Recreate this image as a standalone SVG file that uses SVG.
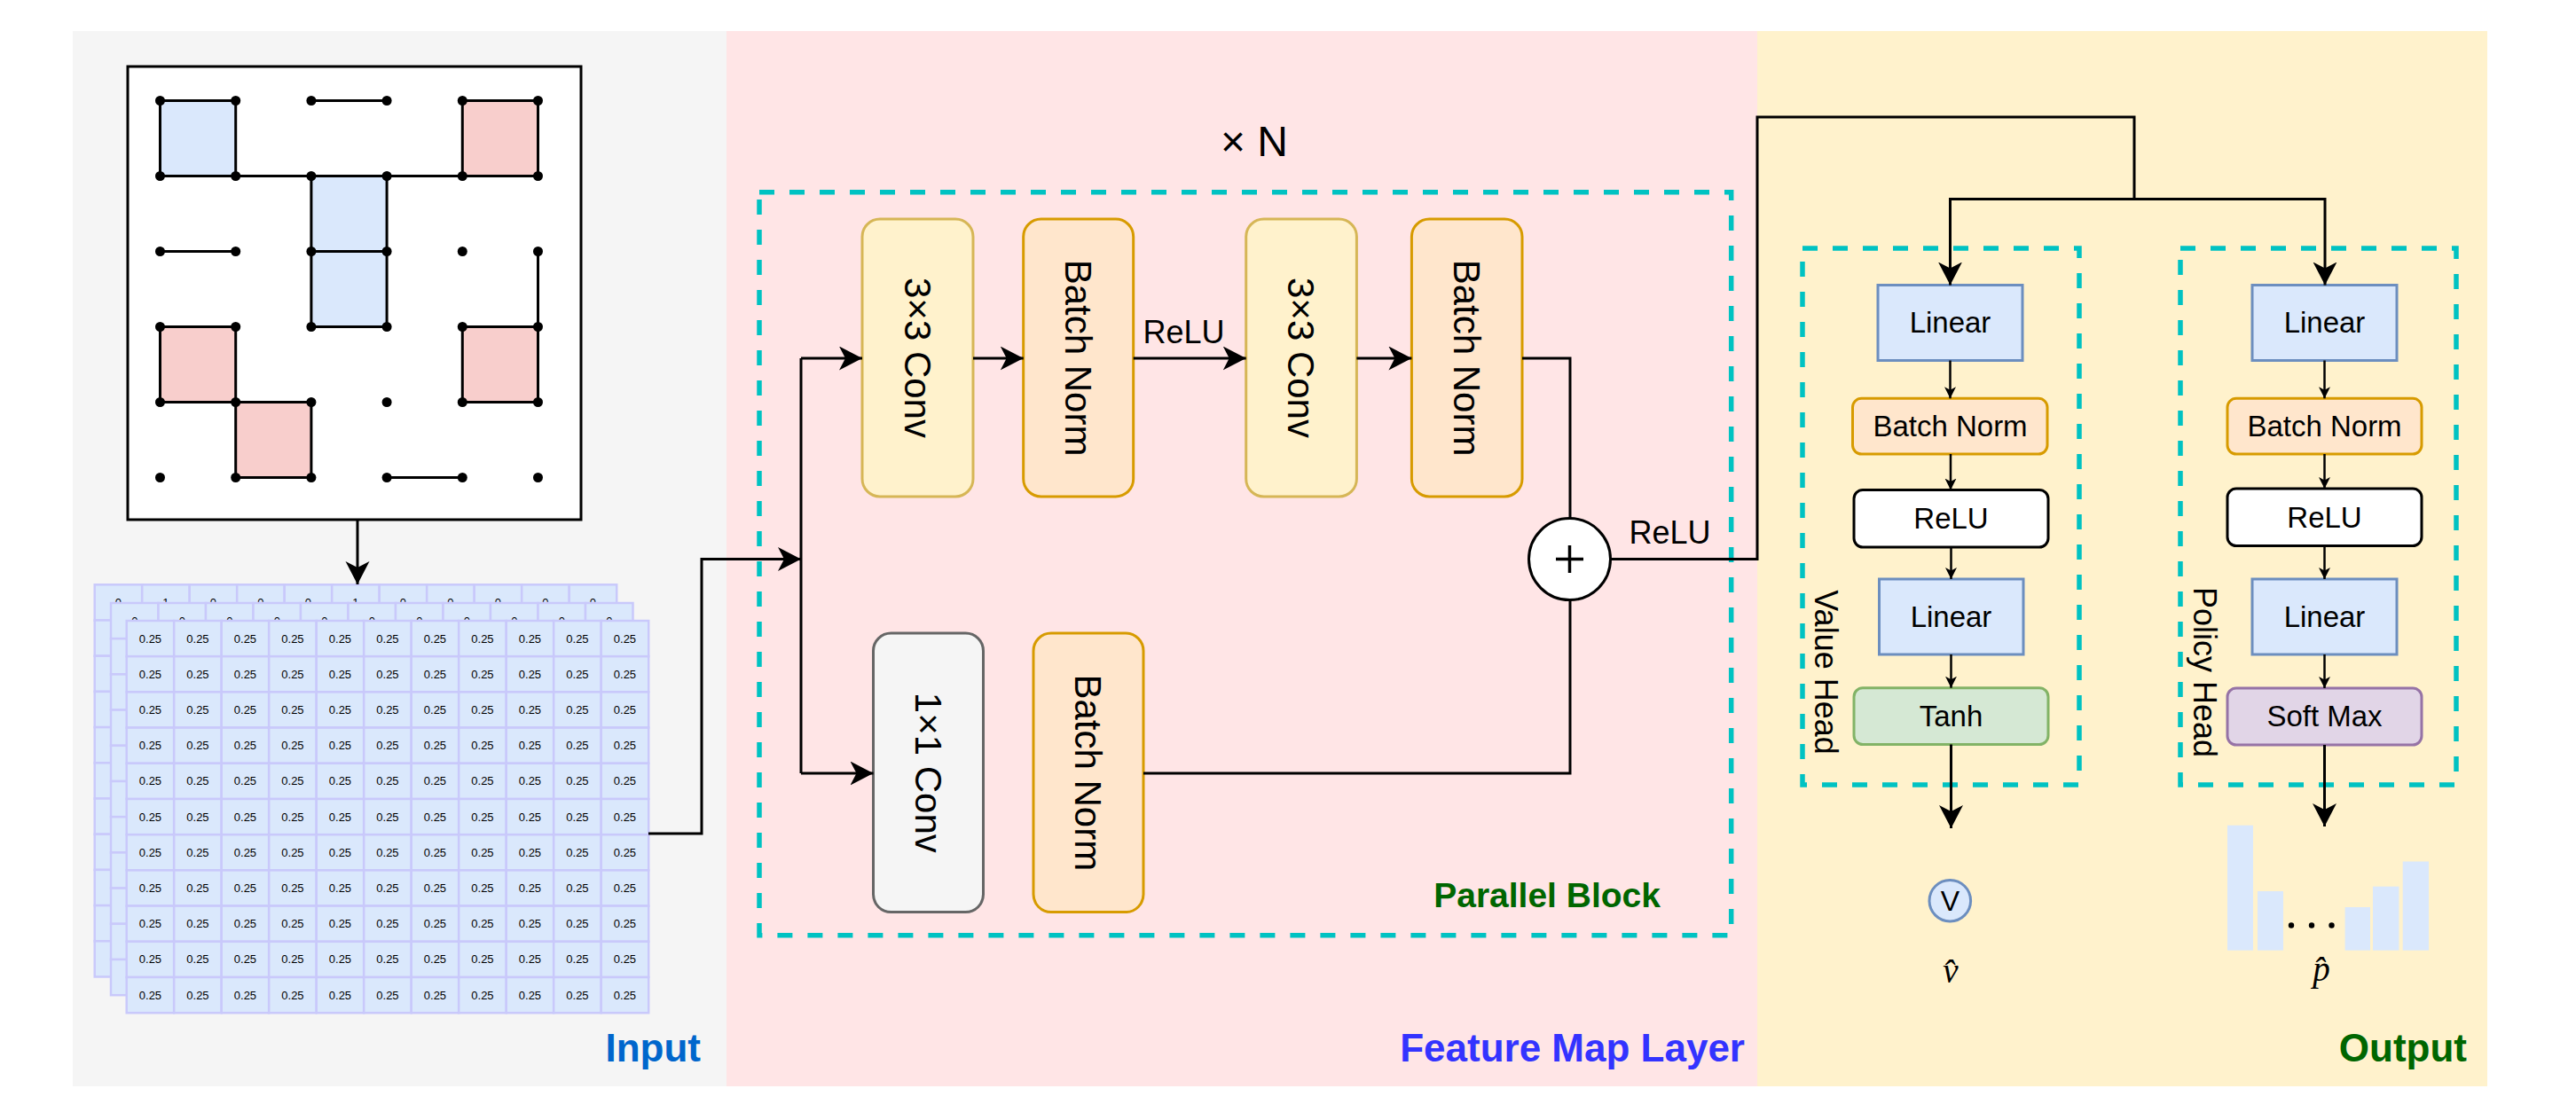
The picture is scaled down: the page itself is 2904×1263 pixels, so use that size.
<svg xmlns="http://www.w3.org/2000/svg" xmlns:xlink="http://www.w3.org/1999/xlink" width="2904" height="1263" viewBox="0 0 2904 1263">
<style>
text{font-family:"Liberation Sans",Arial,sans-serif;fill:#000}
.cell{fill:#dae8fc;stroke:#c9c9fb;stroke-width:2.5}
.ct{font-size:13px;text-anchor:middle}
.line{fill:none;stroke:#000;stroke-width:3}
.thin{fill:none;stroke:#000;stroke-width:2.5}
.dash{fill:none;stroke:#00c2c2;stroke-width:5.5;stroke-dasharray:17 17}
.edge{stroke:#000;stroke-width:3;fill:none}
.dot{fill:#000}
.conv3{fill:#fff2cc;stroke:#d6b656;stroke-width:3}
.bn{fill:#ffe6cc;stroke:#d79b00;stroke-width:3}
.conv1{fill:#f5f5f5;stroke:#666666;stroke-width:3}
.lin{fill:#dae8fc;stroke:#6c8ebf;stroke-width:3}
.relu{fill:#ffffff;stroke:#000;stroke-width:3}
.tanh{fill:#d5e8d4;stroke:#82b366;stroke-width:3}
.soft{fill:#e1d5e7;stroke:#9673a6;stroke-width:3}
.vt{font-size:42px;text-anchor:middle}
.ht{font-size:33px;text-anchor:middle}
.lbl{font-size:36px}
.sec{font-size:44px;font-weight:bold;text-anchor:end}
.math{font-family:"Liberation Serif","DejaVu Serif",serif;font-style:italic;font-size:39px;text-anchor:middle}
</style>
<defs>
<marker id="arr" markerUnits="userSpaceOnUse" markerWidth="28" markerHeight="28" refX="26" refY="13.5" orient="auto">
<path d="M0,0 L26,13.5 L0,27 L7,13.5 Z" fill="#000"/>
</marker>
<marker id="arrs" markerUnits="userSpaceOnUse" markerWidth="14" markerHeight="14" refX="13" refY="6.5" orient="auto">
<path d="M0,0 L13,6.5 L0,13 L3.5,6.5 Z" fill="#000"/>
</marker>
<g id="row">
<rect class="cell" x="0" y="0" width="53.5" height="40.2"/>
<rect class="cell" x="53.5" y="0" width="53.5" height="40.2"/>
<rect class="cell" x="107" y="0" width="53.5" height="40.2"/>
<rect class="cell" x="160.5" y="0" width="53.5" height="40.2"/>
<rect class="cell" x="214" y="0" width="53.5" height="40.2"/>
<rect class="cell" x="267.5" y="0" width="53.5" height="40.2"/>
<rect class="cell" x="321" y="0" width="53.5" height="40.2"/>
<rect class="cell" x="374.5" y="0" width="53.5" height="40.2"/>
<rect class="cell" x="428" y="0" width="53.5" height="40.2"/>
<rect class="cell" x="481.5" y="0" width="53.5" height="40.2"/>
<rect class="cell" x="535" y="0" width="53.5" height="40.2"/>
</g>
<g id="grid">
<use xlink:href="#row" y="0"/>
<use xlink:href="#row" y="40.2"/>
<use xlink:href="#row" y="80.4"/>
<use xlink:href="#row" y="120.6"/>
<use xlink:href="#row" y="160.8"/>
<use xlink:href="#row" y="201"/>
<use xlink:href="#row" y="241.2"/>
<use xlink:href="#row" y="281.4"/>
<use xlink:href="#row" y="321.6"/>
<use xlink:href="#row" y="361.8"/>
<use xlink:href="#row" y="402"/>
</g>
<g id="trow">
<text class="ct" x="26.75" y="24.6">0.25</text>
<text class="ct" x="80.25" y="24.6">0.25</text>
<text class="ct" x="133.75" y="24.6">0.25</text>
<text class="ct" x="187.25" y="24.6">0.25</text>
<text class="ct" x="240.75" y="24.6">0.25</text>
<text class="ct" x="294.25" y="24.6">0.25</text>
<text class="ct" x="347.75" y="24.6">0.25</text>
<text class="ct" x="401.25" y="24.6">0.25</text>
<text class="ct" x="454.75" y="24.6">0.25</text>
<text class="ct" x="508.25" y="24.6">0.25</text>
<text class="ct" x="561.75" y="24.6">0.25</text>
</g>
</defs>

<!-- panels -->
<g id="panels">
<rect x="82" y="35" width="737" height="1190" fill="#f5f5f5"/>
<rect x="819" y="35" width="1162" height="1190" fill="#ffe5e6"/>
<rect x="1981" y="35" width="823" height="1190" fill="#fff2cc"/>
<text class="sec" x="790" y="1197" style="fill:#0066cc">Input</text>
<text class="sec" x="1967" y="1197" style="fill:#3333ff">Feature Map Layer</text>
<text class="sec" x="2781" y="1197" style="fill:#006600">Output</text>
</g>

<!-- board -->
<g id="board">
<rect x="144" y="75" width="511" height="511" fill="#ffffff" stroke="#000" stroke-width="3"/>
<rect class="edge" x="180.5" y="113.5" width="85.2" height="85" style="fill:#dae8fc"/>
<rect class="edge" x="521.3" y="113.5" width="85.2" height="85" style="fill:#f8cecc"/>
<rect class="edge" x="350.9" y="198.5" width="85.2" height="85" style="fill:#dae8fc"/>
<rect class="edge" x="350.9" y="283.5" width="85.2" height="85" style="fill:#dae8fc"/>
<rect class="edge" x="180.5" y="368.5" width="85.2" height="85" style="fill:#f8cecc"/>
<rect class="edge" x="521.3" y="368.5" width="85.2" height="85" style="fill:#f8cecc"/>
<rect class="edge" x="265.7" y="453.5" width="85.2" height="85" style="fill:#f8cecc"/>
<path class="edge" d="M350.9,113.5 H436.1 M180.5,198.5 H606.5 M180.5,283.5 H265.7 M606.5,283.5 V368.5 M436.1,538.5 H521.3"/>
<g class="dot">
<circle cx="180.5" cy="113.5" r="5.5"/><circle cx="265.7" cy="113.5" r="5.5"/><circle cx="350.9" cy="113.5" r="5.5"/><circle cx="436.1" cy="113.5" r="5.5"/><circle cx="521.3" cy="113.5" r="5.5"/><circle cx="606.5" cy="113.5" r="5.5"/>
<circle cx="180.5" cy="198.5" r="5.5"/><circle cx="265.7" cy="198.5" r="5.5"/><circle cx="350.9" cy="198.5" r="5.5"/><circle cx="436.1" cy="198.5" r="5.5"/><circle cx="521.3" cy="198.5" r="5.5"/><circle cx="606.5" cy="198.5" r="5.5"/>
<circle cx="180.5" cy="283.5" r="5.5"/><circle cx="265.7" cy="283.5" r="5.5"/><circle cx="350.9" cy="283.5" r="5.5"/><circle cx="436.1" cy="283.5" r="5.5"/><circle cx="521.3" cy="283.5" r="5.5"/><circle cx="606.5" cy="283.5" r="5.5"/>
<circle cx="180.5" cy="368.5" r="5.5"/><circle cx="265.7" cy="368.5" r="5.5"/><circle cx="350.9" cy="368.5" r="5.5"/><circle cx="436.1" cy="368.5" r="5.5"/><circle cx="521.3" cy="368.5" r="5.5"/><circle cx="606.5" cy="368.5" r="5.5"/>
<circle cx="180.5" cy="453.5" r="5.5"/><circle cx="265.7" cy="453.5" r="5.5"/><circle cx="350.9" cy="453.5" r="5.5"/><circle cx="436.1" cy="453.5" r="5.5"/><circle cx="521.3" cy="453.5" r="5.5"/><circle cx="606.5" cy="453.5" r="5.5"/>
<circle cx="180.5" cy="538.5" r="5.5"/><circle cx="265.7" cy="538.5" r="5.5"/><circle cx="350.9" cy="538.5" r="5.5"/><circle cx="436.1" cy="538.5" r="5.5"/><circle cx="521.3" cy="538.5" r="5.5"/><circle cx="606.5" cy="538.5" r="5.5"/>
</g>
</g>

<!-- feature stack -->
<g id="stack">
<use xlink:href="#grid" transform="translate(106.7,659.3)"/>
<g transform="translate(106.7,659.3)">
<text class="ct" x="26.75" y="24.6">0</text><text class="ct" x="80.25" y="24.6">1</text><text class="ct" x="133.75" y="24.6">0</text><text class="ct" x="187.25" y="24.6">0</text><text class="ct" x="240.75" y="24.6">0</text><text class="ct" x="294.25" y="24.6">1</text><text class="ct" x="347.75" y="24.6">0</text><text class="ct" x="401.25" y="24.6">0</text><text class="ct" x="454.75" y="24.6">0</text><text class="ct" x="508.25" y="24.6">0</text><text class="ct" x="561.75" y="24.6">0</text>
</g>
<use xlink:href="#grid" transform="translate(125,680)"/>
<g transform="translate(125,680)">
<text class="ct" x="26.75" y="24.6">0</text><text class="ct" x="80.25" y="24.6">0</text><text class="ct" x="133.75" y="24.6">0</text><text class="ct" x="187.25" y="24.6">0</text><text class="ct" x="240.75" y="24.6">0</text><text class="ct" x="294.25" y="24.6">0</text><text class="ct" x="347.75" y="24.6">0</text><text class="ct" x="401.25" y="24.6">0</text><text class="ct" x="454.75" y="24.6">0</text><text class="ct" x="508.25" y="24.6">0</text><text class="ct" x="561.75" y="24.6">0</text>
</g>
<use xlink:href="#grid" transform="translate(142.7,700)"/>
<g transform="translate(142.7,700)">
<use xlink:href="#trow" y="0"/>
<use xlink:href="#trow" y="40.2"/>
<use xlink:href="#trow" y="80.4"/>
<use xlink:href="#trow" y="120.6"/>
<use xlink:href="#trow" y="160.8"/>
<use xlink:href="#trow" y="201"/>
<use xlink:href="#trow" y="241.2"/>
<use xlink:href="#trow" y="281.4"/>
<use xlink:href="#trow" y="321.6"/>
<use xlink:href="#trow" y="361.8"/>
<use xlink:href="#trow" y="402"/>
</g>
</g>

<!-- parallel block -->
<g id="parallel-block">
<rect class="dash" x="856" y="216.7" width="1095.7" height="838"/>
<text x="1414" y="176" style="font-size:48px;text-anchor:middle">× N</text>
<text x="1872" y="1023" style="font-size:39px;font-weight:bold;text-anchor:end;fill:#006600">Parallel Block</text>
</g>
<g id="conv3a"><rect class="conv3" x="972" y="247" width="125" height="313" rx="20"/><text class="vt" transform="translate(1034.5,403.5) rotate(90)" dy="15">3×3 Conv</text></g>
<g id="bn1"><rect class="bn" x="1153.7" y="247" width="124" height="313" rx="20"/><text class="vt" transform="translate(1215.7,403.5) rotate(90)" dy="15">Batch Norm</text></g>
<g id="conv3b"><rect class="conv3" x="1404.7" y="247" width="124.7" height="313" rx="20"/><text class="vt" transform="translate(1467,403.5) rotate(90)" dy="15">3×3 Conv</text></g>
<g id="bn2"><rect class="bn" x="1591.4" y="247" width="124.6" height="313" rx="20"/><text class="vt" transform="translate(1653.7,403.5) rotate(90)" dy="15">Batch Norm</text></g>
<g id="conv1"><rect class="conv1" x="984.5" y="714" width="124" height="314.6" rx="20"/><text class="vt" transform="translate(1046.5,871.3) rotate(90)" dy="15">1×1 Conv</text></g>
<g id="bn3"><rect class="bn" x="1165" y="714" width="124" height="314.6" rx="20"/><text class="vt" transform="translate(1227,871.3) rotate(90)" dy="15">Batch Norm</text></g>
<g id="add">
<circle cx="1769.5" cy="630.6" r="46" fill="#ffffff" stroke="#000" stroke-width="3"/>
<path d="M1754,630.6 H1785 M1769.5,615 V646" stroke="#000" stroke-width="3.5"/>
</g>

<!-- heads -->
<g id="value-head">
<rect class="dash" x="2032" y="280" width="312" height="605"/>
<text class="lbl" transform="translate(2058,758) rotate(90)" dy="12.5" style="text-anchor:middle">Value Head</text>
</g>
<g id="v-linear1"><rect class="lin" x="2117" y="321.5" width="163" height="85"/><text class="ht" x="2198.5" y="375">Linear</text></g>
<g id="v-bn"><rect class="bn" x="2088.5" y="449.3" width="219.5" height="62.7" rx="10"/><text class="ht" x="2198.5" y="492">Batch Norm</text></g>
<g id="v-relu"><rect class="relu" x="2090" y="552.5" width="219" height="64.5" rx="10"/><text class="ht" x="2199.5" y="596">ReLU</text></g>
<g id="v-linear2"><rect class="lin" x="2118.5" y="653" width="162.5" height="85"/><text class="ht" x="2199.5" y="707">Linear</text></g>
<g id="v-tanh"><rect class="tanh" x="2090" y="775.7" width="219" height="63.8" rx="10"/><text class="ht" x="2199.5" y="819">Tanh</text></g>

<g id="policy-head">
<rect class="dash" x="2458" y="280" width="311" height="605"/>
<text class="lbl" transform="translate(2485.5,758) rotate(90)" dy="12.5" style="text-anchor:middle">Policy Head</text>
</g>
<g id="p-linear1"><rect class="lin" x="2539" y="321.5" width="163" height="85"/><text class="ht" x="2620.5" y="375">Linear</text></g>
<g id="p-bn"><rect class="bn" x="2511" y="449.3" width="219" height="62.7" rx="10"/><text class="ht" x="2620.5" y="492">Batch Norm</text></g>
<g id="p-relu"><rect class="relu" x="2511" y="551" width="219" height="64.5" rx="10"/><text class="ht" x="2620.5" y="595">ReLU</text></g>
<g id="p-linear2"><rect class="lin" x="2539" y="653" width="163" height="85"/><text class="ht" x="2620.5" y="707">Linear</text></g>
<g id="p-softmax"><rect class="soft" x="2511" y="776" width="219" height="64" rx="10"/><text class="ht" x="2620.5" y="819">Soft Max</text></g>

<!-- outputs -->
<g id="value-out">
<circle cx="2198.3" cy="1015.7" r="23.3" fill="#dae8fc" stroke="#6c8ebf" stroke-width="3"/>
<text x="2198.3" y="1027" style="font-size:32px;text-anchor:middle">V</text>
<text class="math" x="2199" y="1108">v̂</text>
</g>
<g id="policy-out">
<g fill="#dae8fc">
<rect x="2511" y="930.7" width="29" height="141"/>
<rect x="2545" y="1005" width="29" height="66.7"/>
<rect x="2643.6" y="1023" width="28.4" height="48.7"/>
<rect x="2675" y="999.7" width="29.4" height="72"/>
<rect x="2708.7" y="971.5" width="29.3" height="100.2"/>
</g>
<circle cx="2583" cy="1043.5" r="3.2"/><circle cx="2606" cy="1043.5" r="3.2"/><circle cx="2628.5" cy="1043.5" r="3.2"/>
<text class="math" x="2617" y="1106">p̂</text>
</g>

<!-- connectors -->
<g id="connectors">
<path class="line" d="M403,586 V659" marker-end="url(#arr)"/>
<path class="line" d="M731,940 H791 V630.6 H903" marker-end="url(#arr)"/>
<path class="line" d="M903,404 V872"/>
<path class="line" d="M903,404 H972" marker-end="url(#arr)"/>
<path class="line" d="M903,872 H984.5" marker-end="url(#arr)"/>
<path class="line" d="M1097,404 H1153.7" marker-end="url(#arr)"/>
<path class="line" d="M1277.7,404 H1404.7" marker-end="url(#arr)"/>
<text class="lbl" x="1334.5" y="387" style="text-anchor:middle">ReLU</text>
<path class="line" d="M1529.4,404 H1591.4" marker-end="url(#arr)"/>
<path class="line" d="M1716,404 H1770 V584.6"/>
<path class="line" d="M1289,872 H1770 V676.6"/>
<path class="line" d="M1815.5,630.6 H1981 V132 H2406 V224.6"/>
<text class="lbl" x="1882.5" y="612.7" style="text-anchor:middle">ReLU</text>
<path class="line" d="M2406,224.6 H2198.5 V321.5" marker-end="url(#arr)"/>
<path class="line" d="M2406,224.6 H2621 V321.5" marker-end="url(#arr)"/>
<path class="thin" d="M2198.5,406.5 V449.3" marker-end="url(#arrs)"/>
<path class="thin" d="M2199,512 V552.5" marker-end="url(#arrs)"/>
<path class="thin" d="M2199.5,617 V653" marker-end="url(#arrs)"/>
<path class="thin" d="M2199.5,738 V775.7" marker-end="url(#arrs)"/>
<path class="line" d="M2199.5,839.5 V934" marker-end="url(#arr)"/>
<path class="thin" d="M2620.5,406.5 V449.3" marker-end="url(#arrs)"/>
<path class="thin" d="M2620.5,512 V551" marker-end="url(#arrs)"/>
<path class="thin" d="M2620.5,615.5 V653" marker-end="url(#arrs)"/>
<path class="thin" d="M2620.5,738 V776" marker-end="url(#arrs)"/>
<path class="line" d="M2620.5,840 V932" marker-end="url(#arr)"/>
</g>
</svg>
